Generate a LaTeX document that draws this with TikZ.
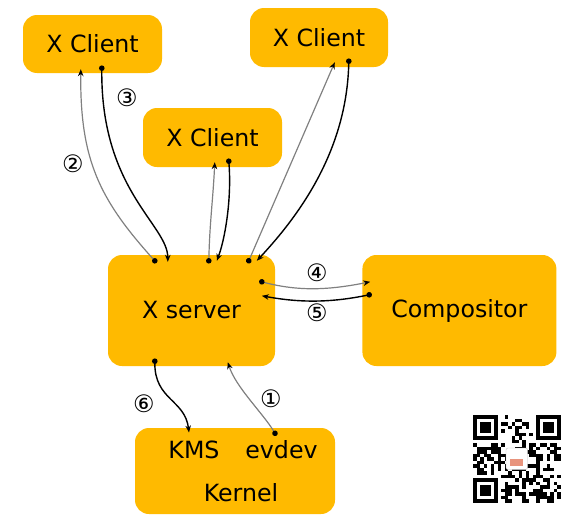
\documentclass[tikz,border=0pt]{standalone}
\usepackage{fontspec}
\setmainfont{DejaVu Sans}
\usetikzlibrary{positioning,arrows.meta}
\definecolor{boxorange}{RGB}{255,186,0}
\definecolor{linegray}{RGB}{128,128,128}

\begin{document}
\begin{tikzpicture}[
    x=1pt, y=-1pt,
    box/.style={fill=boxorange, rounded corners=14pt, align=center, font=\fontsize{23.7}{28}\selectfont},
    txt/.style={font=\fontsize{23.7}{28}\selectfont},
    num/.style={font=\fontsize{24}{28}\selectfont},
    arrow/.style={{Circle[length=5.5pt,color=black]}-{Stealth[length=7pt,width=5.5pt,color=black]}, line width=1.4pt, shorten <=-2.75pt},
    grayarrow/.style={arrow, draw=linegray, line width=1.2pt}
]
\useasboundingbox (0,0) rectangle (579,525);

% boxes
\node[box, minimum width=139pt, minimum height=58pt] (clientA) at (92.5,44) {X Client};
\node[box, minimum width=138pt, minimum height=59pt] (clientB) at (319,37.5) {X Client};
\node[box, minimum width=139pt, minimum height=59pt] (clientC) at (212.5,137.5) {X Client};
\node[box, minimum width=167pt, minimum height=111pt] (xserver) at (191.5,310.5) {X server};
\node[box, right=87pt of xserver, minimum width=194pt, minimum height=111pt] (compositor) {Compositor};
\node[box, minimum width=200pt, minimum height=86pt] (kernel) at (235,471) {};
\node[txt] (kms) at (194,450) {KMS};
\node[txt] (evdev) at (281.5,450) {evdev};
\node[txt] (kernellbl) at (241,493) {Kernel};

% requests and replies
\draw[grayarrow] ([shift={(47,6)}]xserver.north west) .. controls +(-55,-61) and +(-1,91) .. ([shift={(58,-4)}]clientA.south west);
\draw[arrow] ([shift={(79,-5)}]clientA.south west) .. controls +(-1,122) and +(0,-37) .. ([shift={(60,7)}]xserver.north west);
\draw[grayarrow] ([shift={(101,6)}]xserver.north west) .. controls +(1,-40) and +(-2,40) .. ([shift={(72,-5)}]clientC.south west);
\draw[arrow] ([shift={(86,-6)}]clientC.south west) .. controls +(3,39) and +(8,-21) .. ([shift={(109,6)}]xserver.north west);
\draw[grayarrow] ([shift={(141,6)}]xserver.north west) -- ([shift={(85,-5)}]clientB.south west);
\draw[arrow] ([shift={(99,-6)}]clientB.south west) .. controls +(-2,89) and +(43,-46) .. ([shift={(149,6)}]xserver.north west);
\draw[grayarrow] ([shift={(154,27)}]xserver.north west) .. controls +(38,10) and +(-40,8) .. ([shift={(8,27)}]compositor.north west);
\draw[arrow] ([shift={(7,40)}]compositor.north west) .. controls +(-39,8) and +(38,7) .. ([shift={(154,41)}]xserver.north west);
\draw[arrow] ([shift={(47,-5)}]xserver.south west) .. controls +(0,39) and +(-4,-33) .. ([shift={(-5,-5)}]kms.north);
\draw[grayarrow] ([shift={(-6.5,-4)}]evdev.north) .. controls +(-12,-20) and +(8,25) .. ([shift={(120,-4)}]xserver.south west);

% step numbers
\node[num] (stepone) at (271,399) {①};
\node[num] (steptwo) at (73,164) {②};
\node[num] (stepthree) at (127,98) {③};
\node[num] (stepfour) at (317,273) {④};
\node[num] (stepfive) at (317,313) {⑤};
\node[num] (stepsix) at (144,404) {⑥};

% qr code
\coordinate (qr) at (473,415);
\pgfmathsetseed{11}
\foreach \i in {0,...,24}{
  \foreach \j in {0,...,24}{
    \pgfmathtruncatemacro{\qrbit}{rnd<0.45 ? 1 : 0}
    \ifnum\qrbit=1
      \fill (qr) ++(\i*3.5,\j*3.5) rectangle ++(3.5,3.5);
    \fi
  }
}
\foreach \cx/\cy in {0/0, 18/0, 0/18}{
  \fill[white] (qr) ++(\cx*3.5-3.5,\cy*3.5-3.5) rectangle ++(31.5,31.5);
  \fill (qr) ++(\cx*3.5,\cy*3.5) rectangle ++(24.5,24.5);
  \fill[white] (qr) ++(\cx*3.5+3.5,\cy*3.5+3.5) rectangle ++(17.5,17.5);
  \fill (qr) ++(\cx*3.5+7,\cy*3.5+7) rectangle ++(10.5,10.5);
}
\filldraw[fill=white, draw=black!25, rounded corners=2pt] (qr) ++(33,33) rectangle ++(21.5,21.5);
\fill[red!40!brown!60] (qr) ++(37,44) rectangle ++(13,7);
\end{tikzpicture}
\end{document}
